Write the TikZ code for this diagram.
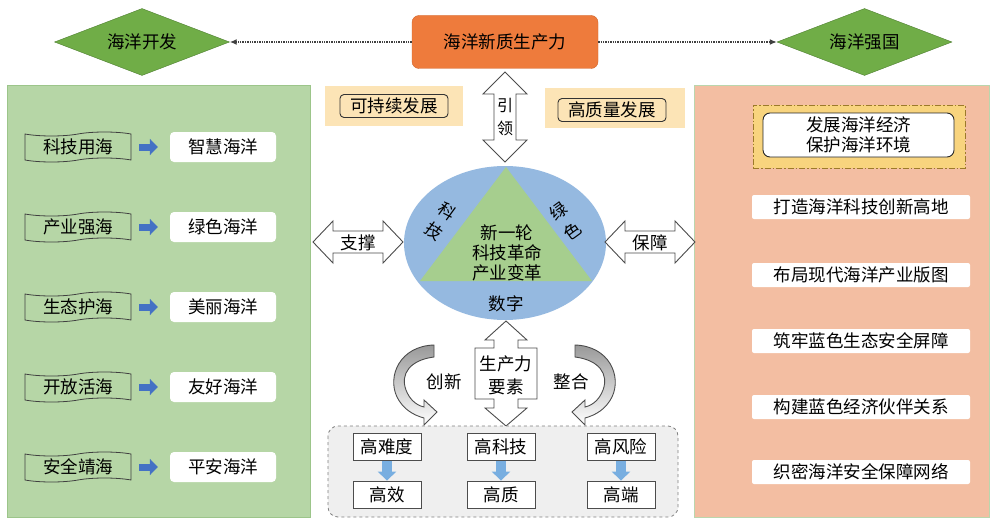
\documentclass[tikz,border=0pt]{standalone}
\usepackage{fontspec}
\setmainfont{Noto Sans CJK SC}
\usetikzlibrary{shapes.geometric,shapes.symbols,arrows.meta}
\definecolor{orangeC}{HTML}{EE7B3C}
\definecolor{orangeD}{HTML}{D0642A}
\definecolor{dgreen}{HTML}{70AD47}
\definecolor{dgreenD}{HTML}{4E7F30}
\definecolor{panelG}{HTML}{B6D6A6}
\definecolor{panelGD}{HTML}{9CC58A}
\definecolor{panelS}{HTML}{F3BEA2}
\definecolor{bandY}{HTML}{FCE4B6}
\definecolor{dashY}{HTML}{F8D47E}
\definecolor{dashYD}{HTML}{9C7A2A}
\definecolor{ellB}{HTML}{95B9E0}
\definecolor{triG}{HTML}{A6CE8E}
\definecolor{arrB}{HTML}{4472C4}
\definecolor{arrLB}{HTML}{78AEE0}
\definecolor{grayBG}{HTML}{EFEFEF}
\begin{document}
\begin{tikzpicture}[x=1pt,y=-1pt,font=\fontsize{17.5}{21}\selectfont,
  diam/.style={diamond, fill=dgreen, draw=dgreenD, minimum width=175, minimum height=67, inner sep=0, aspect=2.6},
  tapebox/.style={tape, draw=black!75, line width=0.8pt, minimum width=106, minimum height=30, inner sep=1pt, tape bend height=4pt},
  wbox/.style={fill=white, rounded corners=4, minimum width=106, minimum height=30, inner sep=0},
  rbox/.style={fill=white, rounded corners=2, minimum width=218, minimum height=24, inner sep=0},
  ybox/.style={draw=black!80, line width=0.9pt, rounded corners=4, minimum width=108, minimum height=23, inner sep=0},
  bbox/.style={draw=black!70, line width=0.8pt, fill=white, minimum width=68, minimum height=27, inner sep=0},
  blockarr/.style={fill=white, draw=black!70, line width=0.9pt, line join=miter},
  curvarr/.style={draw=black!70, line width=0.9pt, top color=black!40, middle color=white, bottom color=white},
  barr/.style={draw=arrB, line width=7pt, -{Triangle[width=16pt 0 0, length=8pt 0 0]}},
  darr/.style={draw=arrLB, line width=10pt, -{Triangle[width=18pt 0 0, length=9pt 0 0]}},
  dotarr/.style={densely dotted, line width=1.4pt, draw=black!75, -{Latex[length=7pt,width=6pt]}},
  stack/.style={align=center, font=\fontsize{17.5}{22}\selectfont, inner sep=0},
  tilt/.style={inner sep=0, font=\fontsize{17}{20}\selectfont}
]
\fill[white] (0,0) rectangle (993,519);
\useasboundingbox (0,0) rectangle (993,519);

% panels
\draw[panelGD, fill=panelG] (7,85) rectangle (310,517);
\draw[panelGD!70, fill=panelS] (694,85) rectangle (989,517);

% top row
\node[fill=orangeC, draw=orangeD, rounded corners=7, minimum width=186, minimum height=53] (core) at (505,42) {海洋新质生产力};
\node[diam] (dl) at (142,42) {海洋开发};
\node[diam] (dr) at (864.5,42) {海洋强国};
\draw[dotarr] (core.west) -- (dl.east);
\draw[dotarr] (core.east) -- (dr.west);

% yellow bands
\fill[bandY] (325,86) rectangle (463,126);
\node[ybox] (ksx) at (394,106) {可持续发展};
\fill[bandY] (545,88) rectangle (685,128);
\node[ybox] (gzl) at (612,110) {高质量发展};

% lead arrow
\draw[blockarr] (505,72) -- (527,94) -- (516,94) -- (516,140) -- (527,140) -- (505,162) -- (483,140) -- (494,140) -- (494,94) -- (483,94) -- cycle;
\node[stack, font=\fontsize{16}{23}\selectfont] (yl) at (505,117) {引\\领};

% ellipse & triangle
\node[ellipse, fill=ellB, minimum width=202, minimum height=154, inner sep=0] (ell) at (505,243) {};
\fill[triG] (506,167) -- (420,281) -- (592,281) -- cycle;
\node[stack, font=\fontsize{17.5}{20}\selectfont] (xyl) at (507,253) {新一轮\\科技革命\\产业变革};
\node (sz) at (506,304) {数字};
\node[tilt, rotate=-36] (kj1) at (447,211) {科};
\node[tilt, rotate=-36] (kj2) at (434,231) {技};
\node[tilt, rotate=36] (ls1) at (559,211) {绿};
\node[tilt, rotate=36] (ls2) at (572,231) {色};

% side arrows
\draw[blockarr] (313,242) -- (333,221) -- (333,231) -- (383,231) -- (383,221) -- (403,242) -- (383,263) -- (383,253) -- (333,253) -- (333,263) -- cycle;
\node (zc) at (358,243) {支撑};
\draw[blockarr] (605,242) -- (625,221) -- (625,231) -- (675,231) -- (675,221) -- (695,242) -- (675,263) -- (675,253) -- (625,253) -- (625,263) -- cycle;
\node (bz) at (650,243) {保障};

% left items
\foreach \y/\a/\b [count=\i] in {147/科技用海/智慧海洋, 227/产业强海/绿色海洋, 307/生态护海/美丽海洋, 387/开放活海/友好海洋, 467/安全靖海/平安海洋} {
  \node[tapebox] (t\i) at (78,\y) {\a};
  \node[wbox] (w\i) at (223,\y) {\b};
  \draw[barr] ([xshift=8pt]t\i.east) -- ([xshift=-12pt]w\i.west);
}

% right items
\node[draw=dashYD, fill=dashY, line width=0.9pt, dash pattern=on 6pt off 2pt on 1.5pt off 2pt, minimum width=212, minimum height=63, inner sep=0] (dd) at (859,136.5) {};
\node[draw=black!85, line width=0.9pt, fill=white, rounded corners=7, minimum width=191, minimum height=44, inner sep=0, align=center, font=\fontsize{17.5}{20}\selectfont] (fz) at (858.5,135) {发展海洋经济\\保护海洋环境};
\foreach \y/\t [count=\i] in {207/打造海洋科技创新高地, 275/布局现代海洋产业版图, 341/筑牢蓝色生态安全屏障, 407/构建蓝色经济伙伴关系, 472/织密海洋安全保障网络} {
  \node[rbox] (r\i) at (861,\y) {\t};
}

% factor arrow
\draw[blockarr] (506,321) -- (527,340) -- (518,340) -- (518,348) -- (537,348) -- (537,399) -- (518,399) -- (518,408) -- (527,408) -- (506,426) -- (485,408) -- (494,408) -- (494,399) -- (475,399) -- (475,348) -- (494,348) -- (494,340) -- (485,340) -- cycle;
\node[stack, font=\fontsize{17.5}{23}\selectfont] (scl) at (506,375) {生产力\\要素};

% curved arrows
\path[curvarr] (434,345) .. controls (400,346) and (387,376) .. (397,397) .. controls (403,409) and (413,415) .. (424,418) -- (424,425) -- (437,412) -- (424,400) -- (424,407) .. controls (415,405) and (409,398) .. (406,390) .. controls (400,374) and (410,360) .. (434,357) -- cycle;
\begin{scope}[shift={(1009,0)}, xscale=-1]
\path[curvarr] (434,345) .. controls (400,346) and (387,376) .. (397,397) .. controls (403,409) and (413,415) .. (424,418) -- (424,425) -- (437,412) -- (424,400) -- (424,407) .. controls (415,405) and (409,398) .. (406,390) .. controls (400,374) and (410,360) .. (434,357) -- cycle;
\end{scope}
\node (cx) at (444,382) {创新};
\node (zh) at (571,382) {整合};

% bottom group
\draw[dashed, draw=black!50, fill=grayBG, rounded corners=10, line width=0.8pt] (328,426) rectangle (678,517);
\node[bbox] (a1) at (387,447) {高难度};
\node[bbox] (a2) at (387,494.5) {高效};
\node[bbox] (b1) at (501,447) {高科技};
\node[bbox] (b2) at (501,494.5) {高质};
\node[bbox] (c1) at (621,447) {高风险};
\node[bbox] (c2) at (621,494.5) {高端};
\draw[darr] (a1.south) -- (a2.north);
\draw[darr] (b1.south) -- (b2.north);
\draw[darr] (c1.south) -- (c2.north);
\end{tikzpicture}
\end{document}
